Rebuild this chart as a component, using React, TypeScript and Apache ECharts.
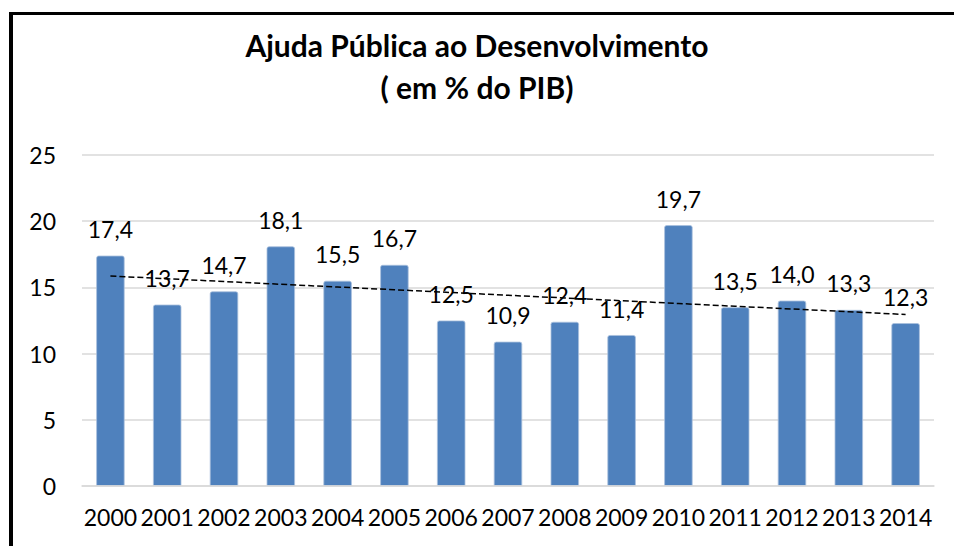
import React, { useEffect, useRef } from "react";
import * as echarts from "echarts";

const titleLines = ["Ajuda Pública ao Desenvolvimento", "( em % do PIB)"];
const years = ["2000", "2001", "2002", "2003", "2004", "2005", "2006", "2007", "2008", "2009", "2010", "2011", "2012", "2013", "2014"];
const values = [17.4, 13.7, 14.7, 18.1, 15.5, 16.7, 12.5, 10.9, 12.4, 11.4, 19.7, 13.5, 14.0, 13.3, 12.3];

function linearTrend(v: number[]): number[] {
  const n = v.length;
  const mx = (n - 1) / 2;
  const my = v.reduce((a, b) => a + b, 0) / n;
  let sxy = 0, sxx = 0;
  v.forEach((y, i) => { sxy += (i - mx) * (y - my); sxx += (i - mx) * (i - mx); });
  const b = sxy / sxx;
  return v.map((_, i) => my + b * (i - mx));
}

export default function App() {
  const ref = useRef<HTMLDivElement>(null);
  useEffect(() => {
    if (!ref.current) return;
    const chart = echarts.init(ref.current, null, { renderer: "svg" });
    const font = "Lato, 'Open Sans', sans-serif";
    const trend = linearTrend(values);
    chart.setOption({
      animation: false,
      backgroundColor: "#ffffff",
      title: {
        text: titleLines.join("\n"),
        left: "center",
        top: 19,
        textStyle: { fontFamily: font, fontWeight: "bold", fontSize: 30, lineHeight: 42, color: "#000" },
      },
      graphic: [
        { type: "line", shape: { x1: 9, y1: 13.5, x2: 954, y2: 13.5 }, style: { stroke: "#000", lineWidth: 3 } },
        { type: "line", shape: { x1: 11, y1: 12, x2: 11, y2: 546 }, style: { stroke: "#000", lineWidth: 4 } },
      ],
      grid: { left: 82, right: 20, top: 155, bottom: 60, containLabel: false },
      xAxis: {
        type: "category",
        data: years,
        axisLine: { show: true, lineStyle: { color: "#d9d9d9", width: 1.5 } },
        axisTick: { show: false },
        axisLabel: { fontFamily: font, fontSize: 23, color: "#000", margin: 19, interval: 0 },
        z: 10,
      },
      yAxis: {
        type: "value",
        min: 0,
        max: 25,
        interval: 5,
        axisLine: { show: false },
        axisTick: { show: false },
        splitLine: { lineStyle: { color: "#d9d9d9", width: 1.5 } },
        axisLabel: { fontFamily: font, fontSize: 23, color: "#000", margin: 26 },
      },
      series: [
        {
          type: "bar",
          data: values,
          barWidth: "50%",
          itemStyle: { color: "#4f81bd", borderColor: "#a9c0dd", borderWidth: 0.8, borderRadius: [2, 2, 0, 0] },
          label: {
            show: true,
            position: "top",
            distance: 15,
            fontFamily: font,
            fontSize: 23,
            color: "#000",
            formatter: (p: any) => Number(p.value).toFixed(1).replace(".", ","),
          },
          z: 2,
        },
        {
          type: "line",
          data: trend,
          symbol: "none",
          silent: true,
          lineStyle: { color: "#000", width: 1.5, type: [6, 3] },
          z: 5,
        },
      ],
    });
    return () => chart.dispose();
  }, []);
  return <div ref={ref} style={{ position: "fixed", left: 0, top: 0, width: 954, height: 546 }} />;
}
